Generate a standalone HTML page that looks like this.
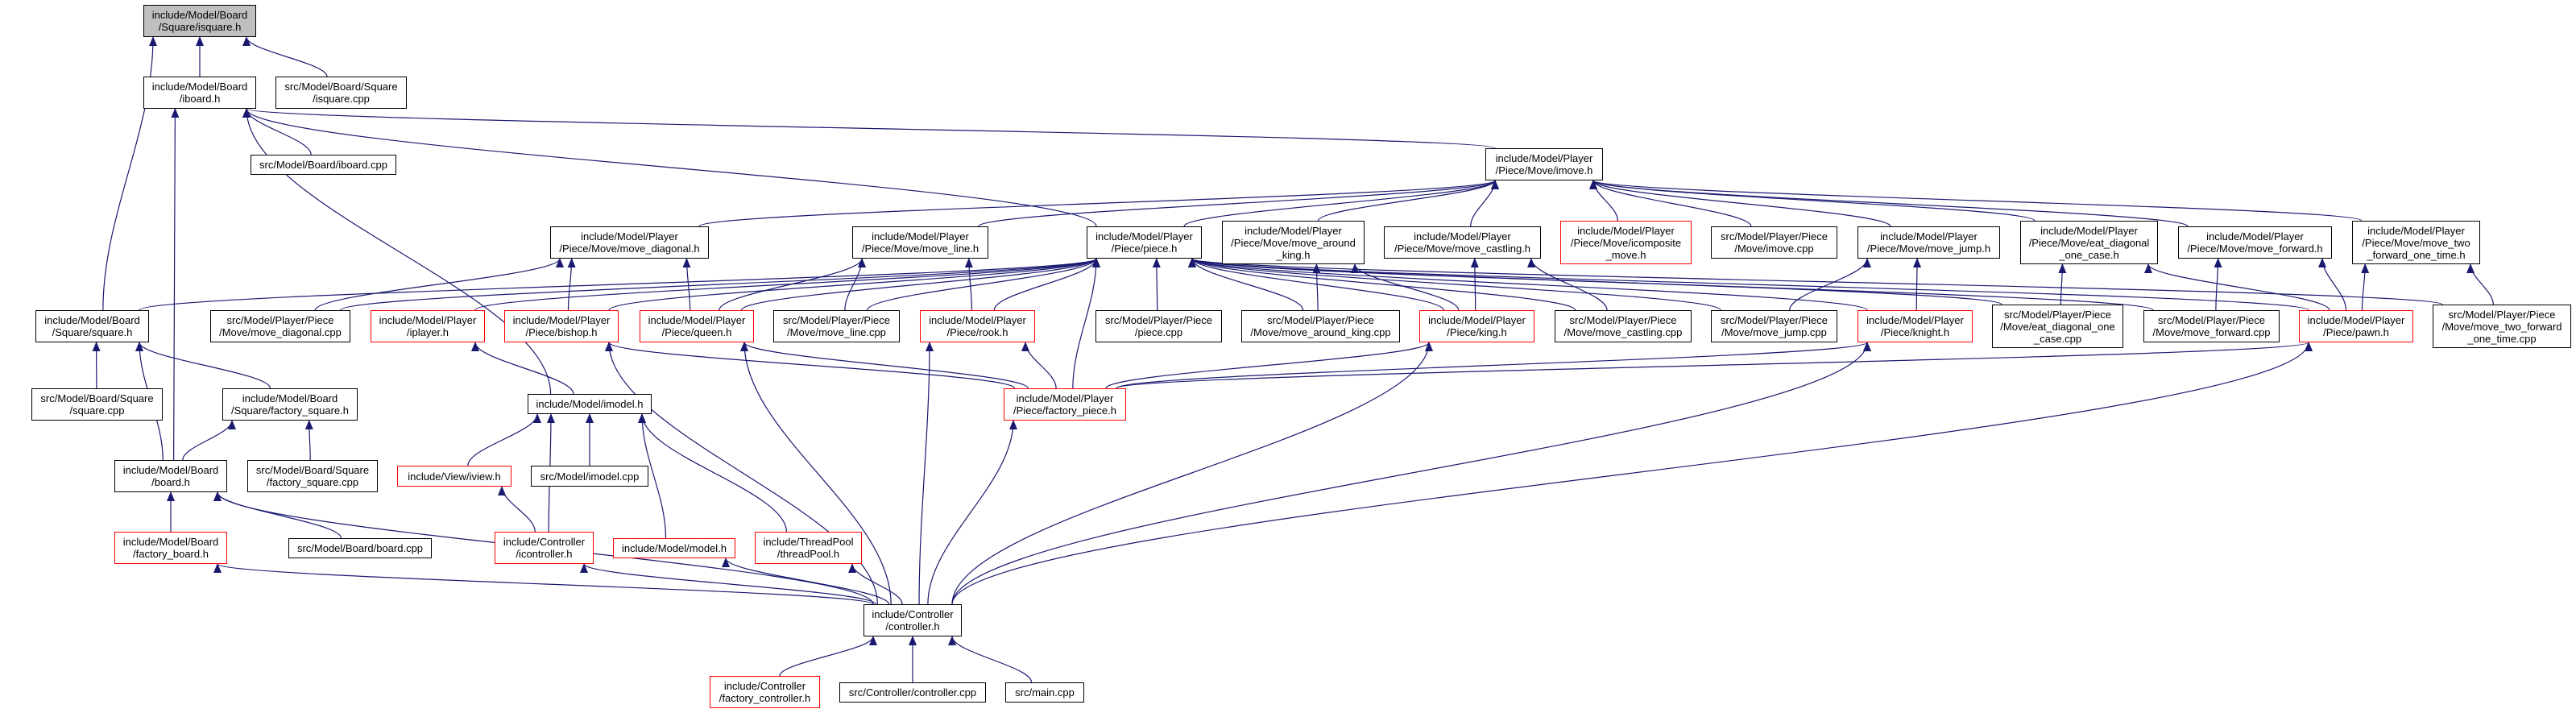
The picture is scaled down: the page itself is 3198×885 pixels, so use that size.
<!DOCTYPE html>
<html><head><meta charset="utf-8"><style>
html,body{margin:0;padding:0;background:#fff;}
#c{position:relative;width:3198px;height:885px;overflow:hidden;}
.n{position:absolute;box-sizing:border-box;border:1px solid #000;background:#fff;font-family:"Liberation Sans",sans-serif;font-size:13px;line-height:15px;text-align:center;display:flex;align-items:center;justify-content:center;white-space:nowrap;color:#000;z-index:2;}
.r{border-color:#f00;}
.g{background:#bfbfbf;}
svg{position:absolute;left:0;top:0;z-index:1;}
</style></head><body><div id="c">
<svg id="s" width="3198" height="885"><defs><marker id="a" markerWidth="12" markerHeight="10" refX="11" refY="5" orient="auto" markerUnits="userSpaceOnUse"><path d="M0,0 L12,5 L0,10 z" fill="#191970"/></marker></defs></svg>
<div class="n g" id="isquare" style="left:178px;top:6px;width:140px;height:40px">include/Model/Board<br>/Square/isquare.h</div>
<div class="n" id="iboard" style="left:178px;top:95px;width:140px;height:40px">include/Model/Board<br>/iboard.h</div>
<div class="n" id="isquarecpp" style="left:342px;top:95px;width:163px;height:40px">src/Model/Board/Square<br>/isquare.cpp</div>
<div class="n" id="iboardcpp" style="left:311px;top:192px;width:181px;height:25px">src/Model/Board/iboard.cpp</div>
<div class="n" id="imove" style="left:1844px;top:184px;width:146px;height:40px">include/Model/Player<br>/Piece/Move/imove.h</div>
<div class="n" id="mdiag" style="left:683px;top:281px;width:197px;height:40px">include/Model/Player<br>/Piece/Move/move_diagonal.h</div>
<div class="n" id="mline" style="left:1058px;top:281px;width:169px;height:40px">include/Model/Player<br>/Piece/Move/move_line.h</div>
<div class="n" id="piece" style="left:1349px;top:281px;width:143px;height:40px">include/Model/Player<br>/Piece/piece.h</div>
<div class="n" id="making" style="left:1517px;top:274px;width:177px;height:54px">include/Model/Player<br>/Piece/Move/move_around<br>_king.h</div>
<div class="n" id="mcast" style="left:1718px;top:281px;width:195px;height:40px">include/Model/Player<br>/Piece/Move/move_castling.h</div>
<div class="n r" id="icomp" style="left:1937px;top:274px;width:163px;height:54px">include/Model/Player<br>/Piece/Move/icomposite<br>_move.h</div>
<div class="n" id="imovecpp" style="left:2124px;top:281px;width:157px;height:40px">src/Model/Player/Piece<br>/Move/imove.cpp</div>
<div class="n" id="mjump" style="left:2306px;top:281px;width:177px;height:40px">include/Model/Player<br>/Piece/Move/move_jump.h</div>
<div class="n" id="eatd" style="left:2508px;top:274px;width:171px;height:54px">include/Model/Player<br>/Piece/Move/eat_diagonal<br>_one_case.h</div>
<div class="n" id="mfwd" style="left:2704px;top:281px;width:191px;height:40px">include/Model/Player<br>/Piece/Move/move_forward.h</div>
<div class="n" id="mtwo" style="left:2920px;top:274px;width:159px;height:54px">include/Model/Player<br>/Piece/Move/move_two<br>_forward_one_time.h</div>
<div class="n" id="square" style="left:44px;top:385px;width:141px;height:40px">include/Model/Board<br>/Square/square.h</div>
<div class="n" id="mdiagcpp" style="left:261px;top:385px;width:174px;height:40px">src/Model/Player/Piece<br>/Move/move_diagonal.cpp</div>
<div class="n r" id="iplayer" style="left:460px;top:385px;width:142px;height:40px">include/Model/Player<br>/iplayer.h</div>
<div class="n r" id="bishop" style="left:626px;top:385px;width:142px;height:40px">include/Model/Player<br>/Piece/bishop.h</div>
<div class="n r" id="queen" style="left:794px;top:385px;width:142px;height:40px">include/Model/Player<br>/Piece/queen.h</div>
<div class="n" id="mlinecpp" style="left:960px;top:385px;width:157px;height:40px">src/Model/Player/Piece<br>/Move/move_line.cpp</div>
<div class="n r" id="rook" style="left:1142px;top:385px;width:143px;height:40px">include/Model/Player<br>/Piece/rook.h</div>
<div class="n" id="piececpp" style="left:1360px;top:385px;width:157px;height:40px">src/Model/Player/Piece<br>/piece.cpp</div>
<div class="n" id="makingcpp" style="left:1541px;top:385px;width:197px;height:40px">src/Model/Player/Piece<br>/Move/move_around_king.cpp</div>
<div class="n r" id="king" style="left:1762px;top:385px;width:143px;height:40px">include/Model/Player<br>/Piece/king.h</div>
<div class="n" id="mcastcpp" style="left:1930px;top:385px;width:170px;height:40px">src/Model/Player/Piece<br>/Move/move_castling.cpp</div>
<div class="n" id="mjumpcpp" style="left:2124px;top:385px;width:157px;height:40px">src/Model/Player/Piece<br>/Move/move_jump.cpp</div>
<div class="n r" id="knight" style="left:2306px;top:385px;width:143px;height:40px">include/Model/Player<br>/Piece/knight.h</div>
<div class="n" id="eatdcpp" style="left:2473px;top:378px;width:163px;height:54px">src/Model/Player/Piece<br>/Move/eat_diagonal_one<br>_case.cpp</div>
<div class="n" id="mfwdcpp" style="left:2661px;top:385px;width:169px;height:40px">src/Model/Player/Piece<br>/Move/move_forward.cpp</div>
<div class="n r" id="pawn" style="left:2854px;top:385px;width:142px;height:40px">include/Model/Player<br>/Piece/pawn.h</div>
<div class="n" id="mtwocpp" style="left:3020px;top:378px;width:172px;height:54px">src/Model/Player/Piece<br>/Move/move_two_forward<br>_one_time.cpp</div>
<div class="n" id="squarecpp" style="left:39px;top:482px;width:163px;height:40px">src/Model/Board/Square<br>/square.cpp</div>
<div class="n" id="fsquare" style="left:276px;top:482px;width:168px;height:40px">include/Model/Board<br>/Square/factory_square.h</div>
<div class="n" id="imodel" style="left:655px;top:489px;width:154px;height:25px">include/Model/imodel.h</div>
<div class="n r" id="fpiece" style="left:1246px;top:482px;width:152px;height:40px">include/Model/Player<br>/Piece/factory_piece.h</div>
<div class="n" id="board" style="left:142px;top:571px;width:140px;height:40px">include/Model/Board<br>/board.h</div>
<div class="n" id="fsquarecpp" style="left:307px;top:571px;width:162px;height:40px">src/Model/Board/Square<br>/factory_square.cpp</div>
<div class="n r" id="iview" style="left:493px;top:578px;width:142px;height:26px">include/View/iview.h</div>
<div class="n" id="imodelcpp" style="left:659px;top:578px;width:146px;height:26px">src/Model/imodel.cpp</div>
<div class="n r" id="fboard" style="left:142px;top:660px;width:140px;height:40px">include/Model/Board<br>/factory_board.h</div>
<div class="n" id="boardcpp" style="left:358px;top:668px;width:178px;height:25px">src/Model/Board/board.cpp</div>
<div class="n r" id="icontroller" style="left:614px;top:660px;width:123px;height:40px">include/Controller<br>/icontroller.h</div>
<div class="n r" id="model" style="left:761px;top:668px;width:152px;height:25px">include/Model/model.h</div>
<div class="n r" id="threadpool" style="left:937px;top:660px;width:133px;height:40px">include/ThreadPool<br>/threadPool.h</div>
<div class="n" id="controller" style="left:1072px;top:750px;width:122px;height:40px">include/Controller<br>/controller.h</div>
<div class="n r" id="fcontroller" style="left:881px;top:839px;width:137px;height:40px">include/Controller<br>/factory_controller.h</div>
<div class="n" id="controllercpp" style="left:1042px;top:847px;width:182px;height:25px">src/Controller/controller.cpp</div>
<div class="n" id="maincpp" style="left:1248px;top:847px;width:98px;height:25px">src/main.cpp</div>
</div>
<script>
var E=[["iboard","isquare"],["isquarecpp","isquare"],["square","isquare"],
["iboardcpp","iboard"],["imove","iboard"],["piece","iboard"],["board","iboard"],["imodel","iboard"],
["mdiag","imove"],["mline","imove"],["piece","imove"],["making","imove"],["mcast","imove"],["icomp","imove"],["imovecpp","imove"],["mjump","imove"],["eatd","imove"],["mfwd","imove"],["mtwo","imove"],
["mdiagcpp","mdiag"],["bishop","mdiag"],["queen","mdiag"],
["queen","mline"],["mlinecpp","mline"],["rook","mline"],
["square","piece"],["mdiagcpp","piece"],["iplayer","piece"],["bishop","piece"],["queen","piece"],["mlinecpp","piece"],["rook","piece"],["piececpp","piece"],["makingcpp","piece"],["king","piece"],["mcastcpp","piece"],["mjumpcpp","piece"],["knight","piece"],["eatdcpp","piece"],["mfwdcpp","piece"],["pawn","piece"],["mtwocpp","piece"],["fpiece","piece"],
["makingcpp","making"],["king","making"],["king","mcast"],["mcastcpp","mcast"],["mjumpcpp","mjump"],["knight","mjump"],
["eatdcpp","eatd"],["pawn","eatd"],["mfwdcpp","mfwd"],["pawn","mfwd"],["pawn","mtwo"],["mtwocpp","mtwo"],
["squarecpp","square"],["fsquare","square"],["board","square"],["board","fsquare"],["fsquarecpp","fsquare"],
["fboard","board"],["boardcpp","board"],["controller","board"],["imodel","iplayer"],
["iview","imodel"],["imodelcpp","imodel"],["icontroller","imodel"],["model","imodel"],["threadpool","imodel"],["icontroller","iview"],
["fpiece","bishop"],["controller","bishop"],["fpiece","queen"],["controller","queen"],["fpiece","rook"],["controller","rook"],["fpiece","king"],["controller","king"],["fpiece","knight"],["controller","knight"],["fpiece","pawn"],["controller","pawn"],
["controller","fpiece"],["controller","fboard"],["controller","icontroller"],["controller","model"],["controller","threadpool"],
["fcontroller","controller"],["controllercpp","controller"],["maincpp","controller"]];
function R(id){var e=document.getElementById(id);var l=e.offsetLeft,t=e.offsetTop,w=e.offsetWidth,h=e.offsetHeight;return{l:l,t:t,r:l+w,b:t+h,cx:l+w/2,cy:t+h/2};}
var s=document.getElementById("s"),ns="http://www.w3.org/2000/svg";
E.forEach(function(p){var c=R(p[0]),q=R(p[1]);var x1,y1,x2,y2;
var tx=Math.max(q.l+12,Math.min(q.r-12,c.cx+(q.cx-c.cx)*0.15));
var sx=Math.max(c.l+12,Math.min(c.r-12,c.cx+(q.cx-c.cx)*0.1));
if(q.b<=c.t){x1=sx;y1=c.t;x2=tx;y2=q.b;}else{x1=sx;y1=c.b;x2=tx;y2=q.t;}
var dy=(y2-y1)*0.35;
var path=document.createElementNS(ns,"path");
path.setAttribute("d","M"+x1+","+y1+" C"+x1+","+(y1+dy)+" "+x2+","+(y2-dy)+" "+x2+","+y2);
path.setAttribute("fill","none");path.setAttribute("stroke","#191970");path.setAttribute("stroke-width","1.2");path.setAttribute("marker-end","url(#a)");
s.appendChild(path);});
</script>
</body></html>
